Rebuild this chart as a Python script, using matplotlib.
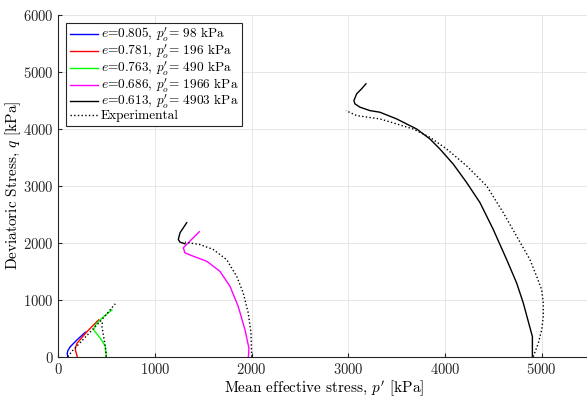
import matplotlib
matplotlib.use('Agg')
import matplotlib.pyplot as plt

plt.rcParams['font.family'] = 'serif'
plt.rcParams['font.serif'] = ['cmr10', 'DejaVu Serif']
plt.rcParams['mathtext.fontset'] = 'cm'
plt.rcParams['axes.formatter.use_mathtext'] = True

# simulated paths (p', q) in kPa
p_098 = [98, 92, 100, 124, 193, 280]
q_098 = [0, 60, 110, 176, 295, 430]
p_196 = [196, 180, 176, 193, 297, 400, 418]
q_196 = [0, 100, 148, 236, 441, 617, 647]
p_490 = [490, 496, 486, 460, 434, 366, 383, 452, 555]
q_490 = [0, 30, 176, 260, 325, 471, 559, 677, 824]
p_1966 = [1966, 1972, 1931, 1861, 1776, 1672, 1535, 1396, 1310, 1293, 1344, 1458]
q_1966 = [0, 148, 471, 882, 1235, 1499, 1676, 1764, 1823, 1912, 2000, 2194]
p_4903 = [4903, 4903, 4809, 4740, 4637, 4498, 4361, 4223, 4085, 3947, 3844, 3706, 3499,
          3325, 3223, 3120, 3068, 3057, 3086, 3137, 3182]
q_4903 = [0, 353, 942, 1295, 1705, 2235, 2705, 3058, 3381, 3646, 3822, 3998, 4175,
          4293, 4321, 4381, 4439, 4497, 4616, 4704, 4792]
# short black segment near p'=1300
p_seg = [1310, 1259, 1241, 1259, 1328]
q_seg = [1982, 2011, 2058, 2176, 2353]

# experimental paths
pe_low = [98, 150, 250, 350, 450, 520, 589]
qe_low = [0, 110, 290, 470, 650, 790, 929]
pe_490 = [496, 496, 486, 469, 452, 455]
qe_490 = [0, 30, 176, 353, 529, 600]
pe_1966 = [2000, 1993, 1965, 1913, 1845, 1741, 1603, 1465, 1310]
qe_1966 = [0, 412, 765, 1118, 1411, 1705, 1882, 1970, 2010]
pe_4903 = [4912, 4964, 4999, 5016, 5016, 4999, 4947, 4878, 4740, 4602, 4430, 4223,
           4017, 3844, 3671, 3327, 3086, 2975]
qe_4903 = [0, 236, 471, 705, 942, 1176, 1411, 1705, 2116, 2529, 2998, 3351,
           3646, 3852, 3998, 4175, 4233, 4321]

fig = plt.figure(figsize=(5.87, 3.96), dpi=100)
ax = fig.add_axes([0.0993, 0.0992, 0.906, 0.863])

ax.plot(p_098, q_098, color=(0, 0, 1), lw=1.0, label=r'$e$=0.805, $p^{\prime}_o$= 98 kPa')
ax.plot(p_196, q_196, color=(1, 0, 0), lw=1.0, label=r'$e$=0.781, $p^{\prime}_o$= 196 kPa')
ax.plot(p_490, q_490, color=(0, 1, 0), lw=1.0, label=r'$e$=0.763, $p^{\prime}_o$= 490 kPa')
ax.plot(p_1966, q_1966, color=(1, 0, 1), lw=1.0, label=r'$e$=0.686, $p^{\prime}_o$= 1966 kPa')
ax.plot(p_4903, q_4903, color='k', lw=1.0, label=r'$e$=0.613, $p^{\prime}_o$= 4903 kPa')
ax.plot(p_seg, q_seg, color='k', lw=1.0)
ax.plot(pe_low, qe_low, 'k:', lw=1.0, label='Experimental')
ax.plot(pe_490, qe_490, 'k:', lw=1.0)
ax.plot(pe_1966, qe_1966, 'k:', lw=1.0)
ax.plot(pe_4903, qe_4903, 'k:', lw=1.0)

ax.set_xlim(0, 5500)
ax.set_ylim(0, 6000)
ax.set_xticks([0, 1000, 2000, 3000, 4000, 5000])
ax.set_yticks([0, 1000, 2000, 3000, 4000, 5000, 6000])
ax.grid(True, color=(0.9, 0.9, 0.9), lw=0.7)
ax.set_axisbelow(True)
ax.tick_params(direction='in', length=3, labelsize=10.5, colors=(0.15, 0.15, 0.15))
for s in ['top', 'right']:
    ax.spines[s].set_visible(False)
for s in ['left', 'bottom']:
    ax.spines[s].set_color((0.15, 0.15, 0.15))
    ax.spines[s].set_linewidth(0.8)

ax.set_xlabel(r"Mean effective stress, $p^{\prime}$ [kPa]", fontsize=11, labelpad=1)
ax.set_ylabel(r"Deviatoric Stress, $q$ [kPa]", fontsize=11)
ax.yaxis.set_label_coords(-0.066, 0.5)

leg = ax.legend(loc='upper left', fontsize=9.6, fancybox=False, edgecolor=(0.15, 0.15, 0.15),
                framealpha=1, borderpad=0.25, labelspacing=-0.1, handlelength=2.1,
                handletextpad=0.25, borderaxespad=0.6)
leg.get_frame().set_linewidth(0.8)

fig.savefig('out.png', dpi=100)
